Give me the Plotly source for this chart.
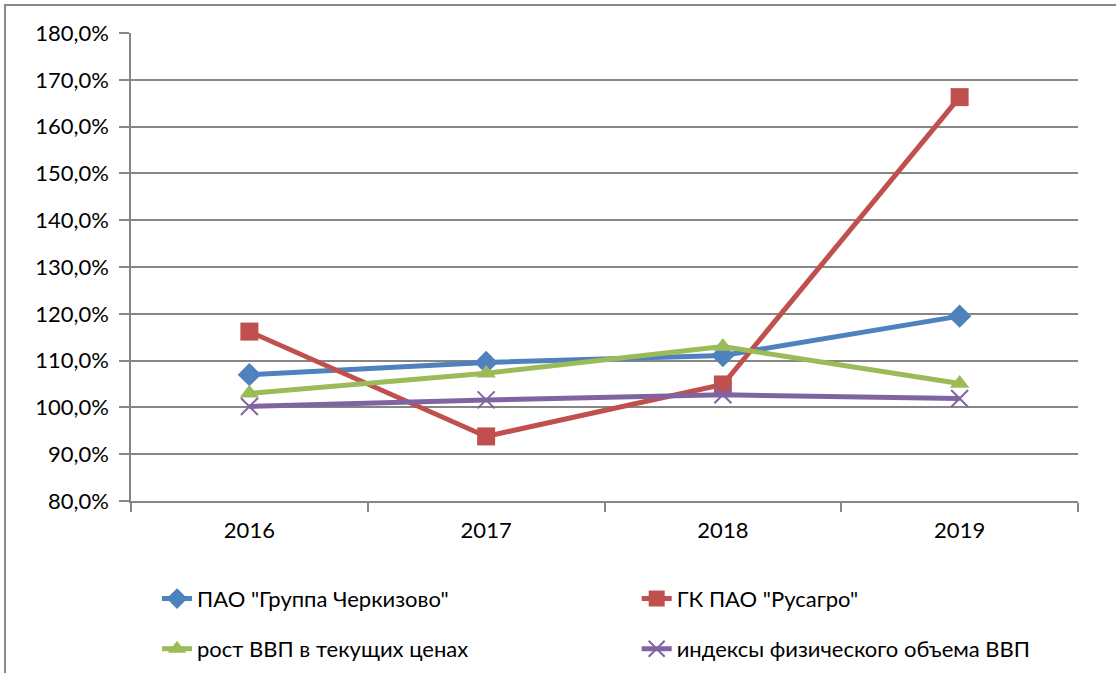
import plotly.graph_objects as go

years = ["2016", "2017", "2018", "2019"]
cherkizovo = [107.0, 109.6, 111.1, 119.5]
rusagro = [116.2, 93.8, 104.9, 166.3]
gdp_nominal = [103.0, 107.3, 113.0, 105.1]
gdp_real = [100.2, 101.6, 102.7, 101.9]

names = ['ПАО "Группа Черкизово"', 'ГК ПАО "Русагро"',
         'рост ВВП в текущих ценах', 'индексы физического объема ВВП']
colors = ["#4F81BD", "#C0504D", "#9BBB59", "#8064A2"]
symbols = ["diamond", "square", "triangle-up", "x-thin"]
sizes = [18, 18, 17, 17]
legends = ["legend", "legend2", "legend3", "legend4"]
series = [cherkizovo, rusagro, gdp_nominal, gdp_real]

FONT = "Lato, 'Liberation Sans', sans-serif"

fig = go.Figure()
for s, n, c, sym, sz, lg in zip(series, names, colors, symbols, sizes, legends):
    marker = dict(symbol=sym, size=sz, color=c)
    if sym == "x-thin":
        marker["line"] = dict(color=c, width=2)
    fig.add_trace(go.Scatter(x=years, y=s, name=n, mode="lines+markers",
                             line=dict(color=c, width=5), marker=marker,
                             legend=lg, showlegend=True))

leg_common = dict(orientation="h", xanchor="left", yanchor="middle",
                  font=dict(size=22), bgcolor="rgba(0,0,0,0)")

fig.update_layout(
    width=1116, height=673,
    showlegend=True,
    margin=dict(l=131, r=38, t=33, b=172, autoexpand=False),
    paper_bgcolor="white", plot_bgcolor="white",
    separators=", ",
    font=dict(family=FONT, size=21, color="#000000"),
    xaxis=dict(type="category", range=[-0.5, 3.5], tickson="boundaries",
               ticks="outside", ticklen=9, tickcolor="#868686", tickwidth=1.5,
               showline=True, linecolor="#868686", linewidth=1.5,
               showgrid=False, tickfont=dict(size=22), automargin=False,
               ticklabelstandoff=9),
    yaxis=dict(range=[80, 180], dtick=10, tickformat=".1f", ticksuffix="%",
               ticks="outside", ticklen=10, tickcolor="#868686", tickwidth=1.5,
               showline=True, linecolor="#868686", linewidth=1.5,
               gridcolor="#868686", gridwidth=1.5, zeroline=False,
               tickfont=dict(size=22), automargin=False, ticklabelstandoff=6),
    legend=dict(x=0.0275, y=-0.209, **leg_common),
    legend2=dict(x=0.534, y=-0.209, **leg_common),
    legend3=dict(x=0.0275, y=-0.316, **leg_common),
    legend4=dict(x=0.534, y=-0.316, **leg_common),
    shapes=[dict(type="rect", xref="paper", yref="paper",
                 x0=-0.133, x1=1.2, y0=-0.5, y1=1.0598,
                 line=dict(color="#868686", width=2), layer="below")],
)

fig.write_html("out.html", config={"displayModeBar": False},
               post_script="document.body.style.margin='0';")
